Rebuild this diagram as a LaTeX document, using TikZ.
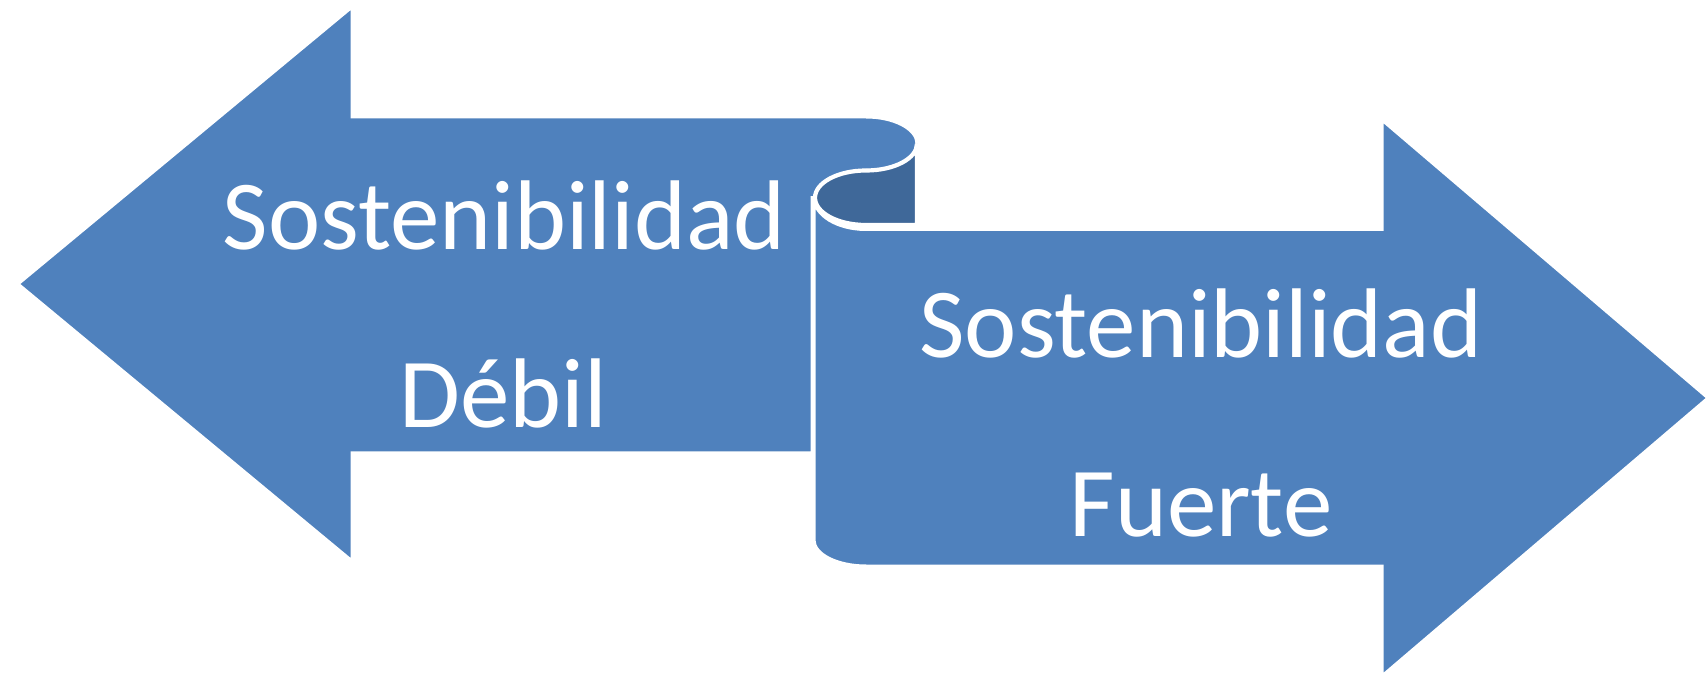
\documentclass[tikz,border=0pt]{standalone}
\usepackage{fontspec}
\setmainfont{Carlito}
\definecolor{arrowblue}{HTML}{4F81BD}
\definecolor{curldark}{HTML}{3F6899}
\begin{document}
\begin{tikzpicture}[x=0.5pt,y=0.5pt,
  shapefill/.style={fill=arrowblue,draw=white,line width=1.5pt,line join=miter},
  darkfill/.style={fill=curldark,draw=white,line width=2.1pt},
  label/.style={text=white,font=\fontsize{49.5}{60}\selectfont,anchor=base,inner sep=0pt}]
\useasboundingbox (0,0) rectangle (1708,675);
% left arrow
\path[shapefill] (18,391) -- (352,668) -- (352,558) -- (866,558)
  arc[start angle=90,end angle=-90,x radius=51,y radius=26.75]
  arc[start angle=90,end angle=180,x radius=51,y radius=27.25]
  -- (812,477.25) -- (812,222) -- (352,222) -- (352,114) -- cycle;
% right arrow
\path[shapefill] (814,477.25) -- (814,135)
  arc[start angle=180,end angle=270,x radius=52,y radius=26]
  -- (1382,109) -- (1382,-1) -- (1708,277) -- (1382,555) -- (1382,445.5) -- (866,445.5)
  arc[start angle=270,end angle=180,x radius=52,y radius=31.75] -- cycle;
% dark curl
\path[darkfill] (917,531.25)
  arc[start angle=0,end angle=-90,x radius=51,y radius=26.75]
  arc[start angle=90,end angle=270,x radius=51,y radius=27.25]
  -- (917,450) -- cycle;
% labels
\node[label] (l1) at (504.5,425) {Sostenibilidad};
\node[label] (l2) at (503.5,247) {Débil};
\node[label] (r1) at (1201,317) {Sostenibilidad};
\node[label] (r2) at (1201,138.5) {Fuerte};
\end{tikzpicture}
\end{document}
